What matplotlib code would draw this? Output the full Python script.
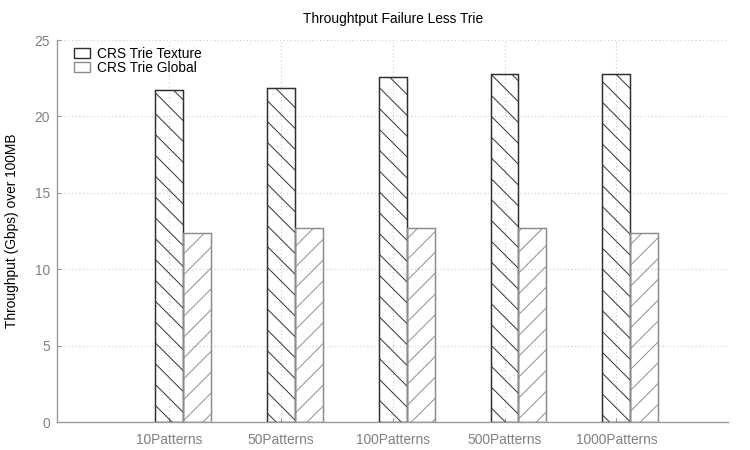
import numpy as np
import matplotlib
matplotlib.use("Agg")
import matplotlib.pyplot as plt
from matplotlib.patches import Patch

categories = ["10Patterns", "50Patterns", "100Patterns", "500Patterns", "1000Patterns"]
texture = [21.7, 21.85, 22.55, 22.75, 22.75]
global_mem = [12.4, 12.7, 12.7, 12.7, 12.4]
series_names = ["CRS Trie Texture", "CRS Trie Global"]

DPI = 125
FS = 7.9
plt.rcParams["font.family"] = ["Liberation Sans", "DejaVu Sans"]
plt.rcParams["hatch.linewidth"] = 0.55

fig = plt.figure(figsize=(750 / DPI, 450 / DPI), dpi=DPI)
ax = fig.add_axes([0.076, 0.062, 0.895, 0.849])

x = np.arange(len(categories))
width = 0.25
ax.bar(x, texture, width, facecolor="none", edgecolor="#2e2e2e",
       hatch="\\\\", linewidth=0.85, zorder=2)
ax.bar(x + width, global_mem, width, facecolor="none", edgecolor="#8c8c8c",
       hatch="//", linewidth=0.85, zorder=2)

ax.set_xlim(-1, 5)
ax.set_ylim(0, 25)
ax.set_xticks(x)
ax.set_xticklabels(categories)
ax.set_yticks([0, 5, 10, 15, 20, 25])

ax.grid(True, linestyle=(0, (1, 2.5)), color="#c8c8c8", linewidth=0.6, zorder=1)
for side in ["top", "right"]:
    ax.spines[side].set_visible(False)
for side in ["left", "bottom"]:
    ax.spines[side].set_color("#999999")
    ax.spines[side].set_linewidth(0.8)
ax.tick_params(direction="in", length=2.5, width=0.6, color="#999999",
               labelcolor="#808080", labelsize=FS)
ax.tick_params(axis="y", pad=4)
ax.tick_params(axis="x", pad=6)

ax.set_ylabel("Throughput (Gbps) over 100MB", fontsize=FS, labelpad=9)
ax.set_title("Throughtput Failure Less Trie", fontsize=FS, pad=10)

# legend swatches are small, so the hatch barely shows in them
handles = [
    Patch(facecolor="none", edgecolor="#2e2e2e", linewidth=0.8, hatch="\\"),
    Patch(facecolor="none", edgecolor="#8c8c8c", linewidth=0.8, hatch="/"),
]
ax.legend(handles, series_names, loc="upper left", bbox_to_anchor=(0.015, 1.0),
          frameon=False, fontsize=FS, handlelength=1.15, handleheight=0.7,
          handletextpad=0.55, labelspacing=0.0, borderaxespad=0.1)

fig.savefig("out.png", dpi=DPI)
